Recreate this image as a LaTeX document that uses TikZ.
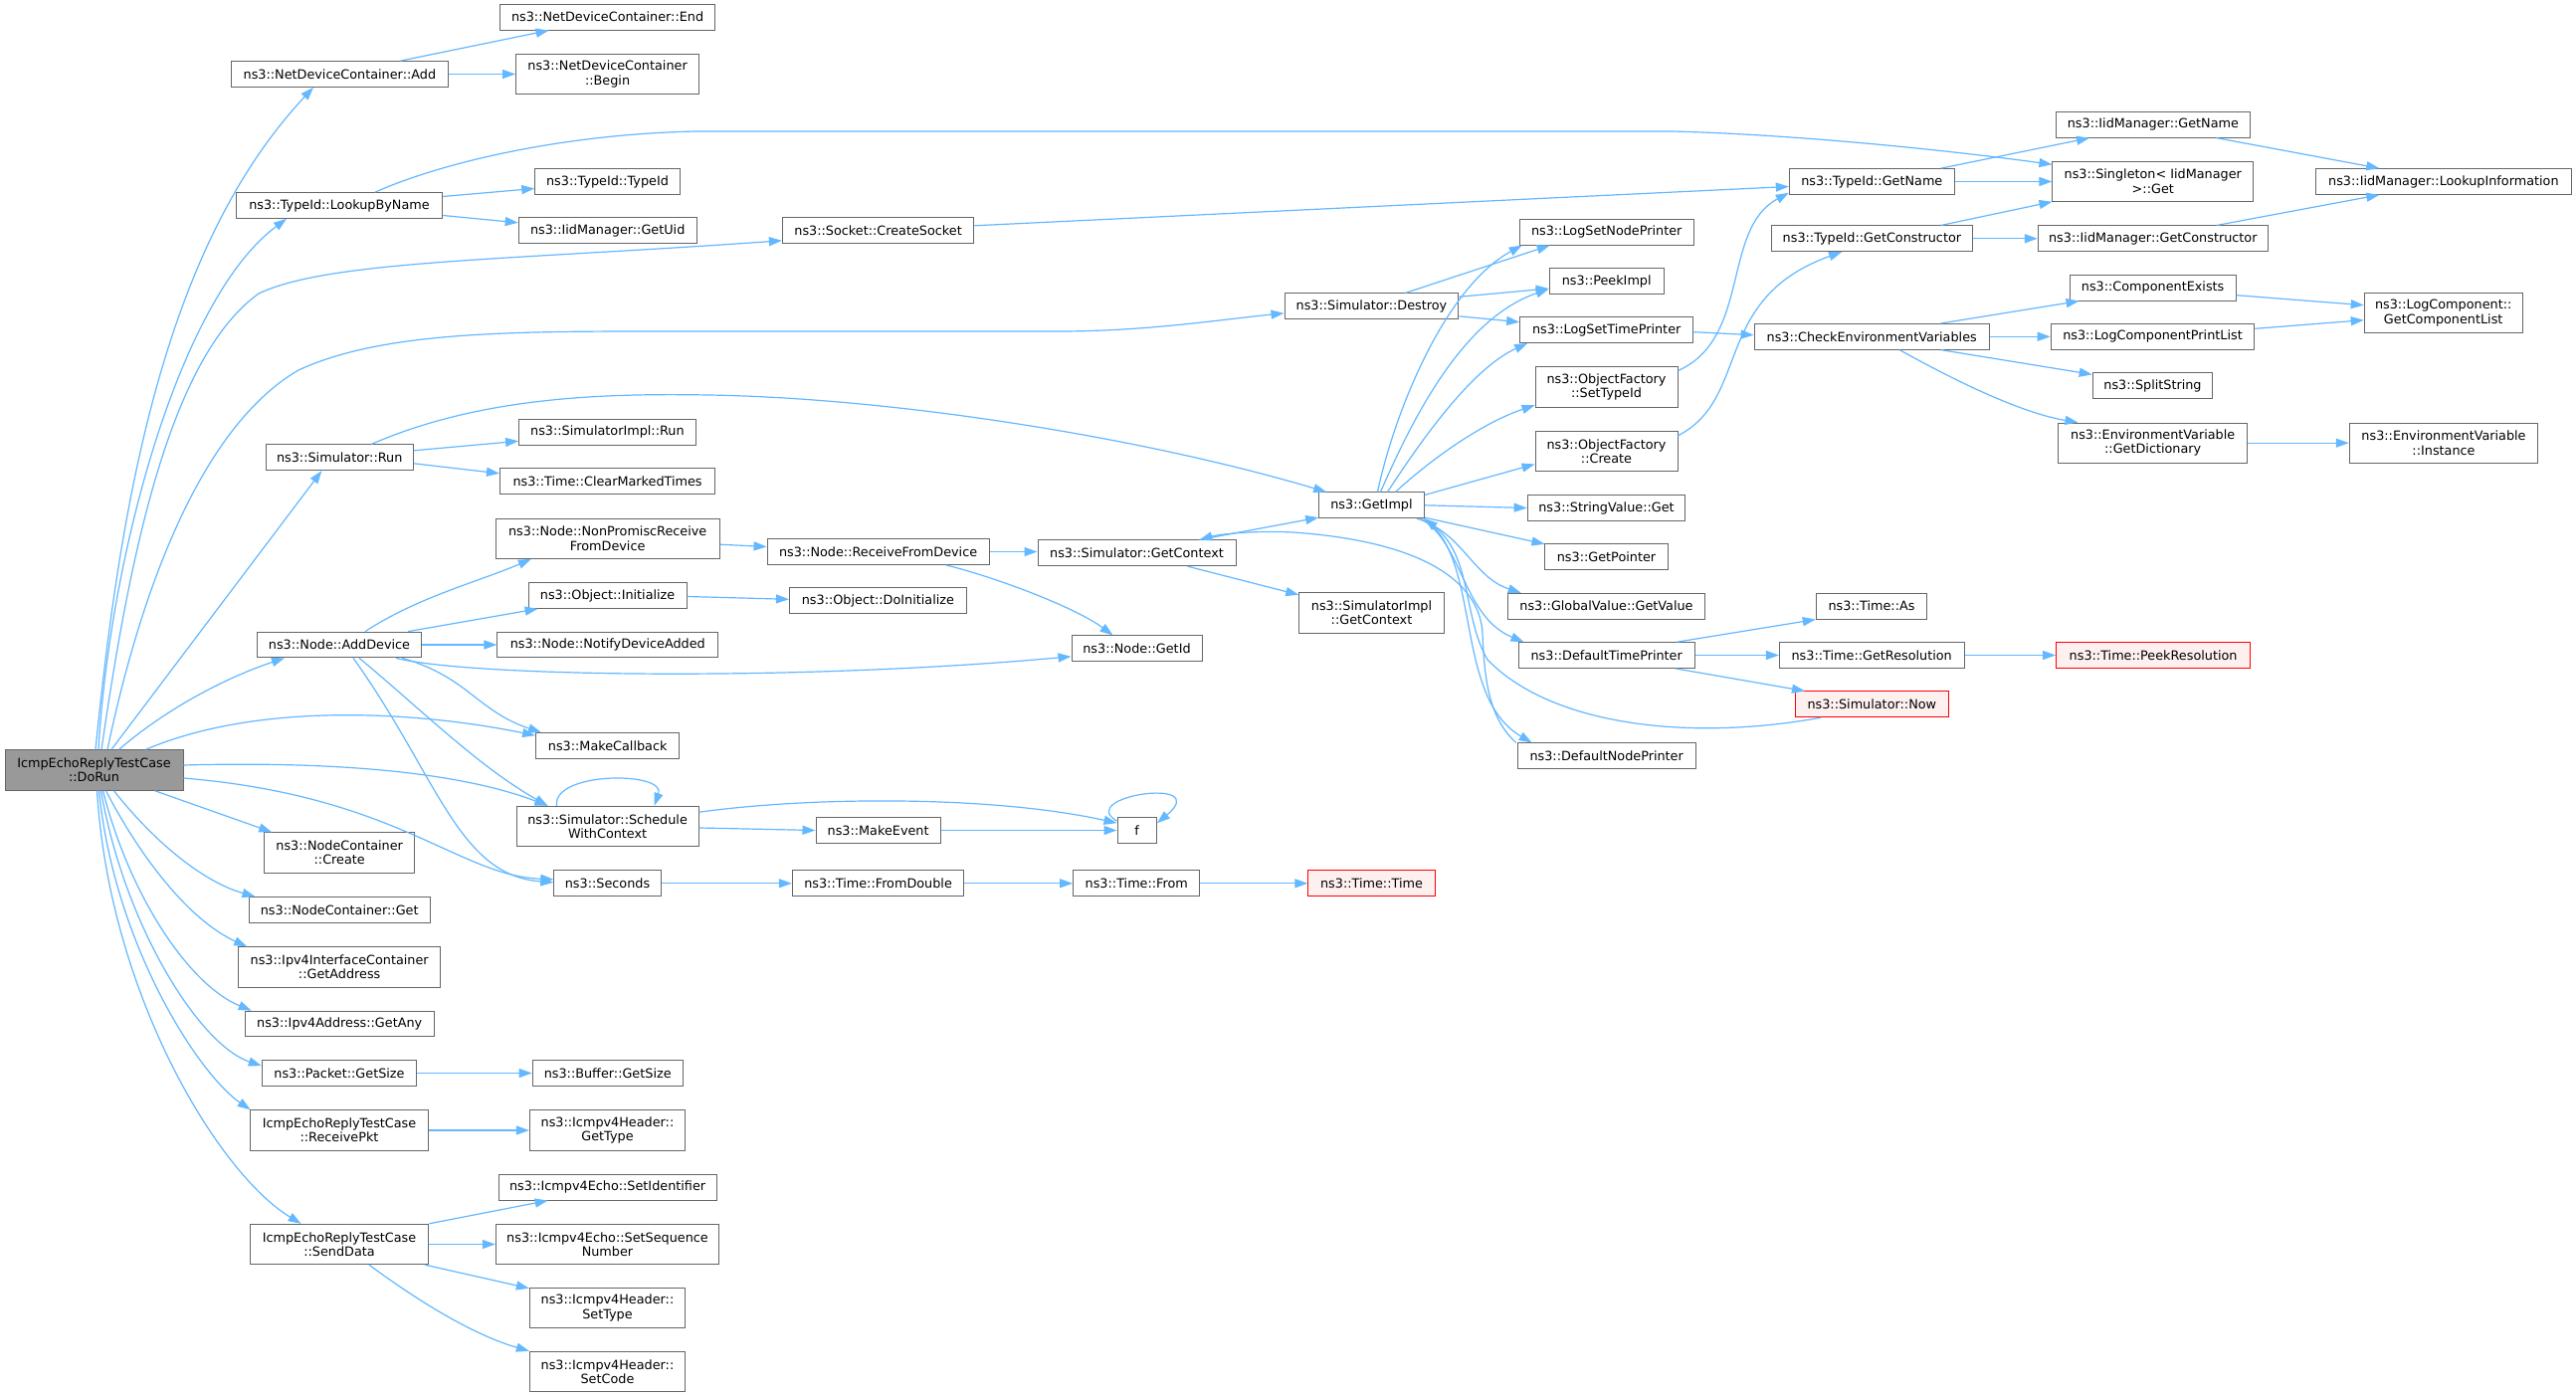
\documentclass[tikz,border=0pt]{standalone}
\usepackage{fontspec}
\setmainfont{DejaVu Sans}
\usetikzlibrary{arrows.meta}
\definecolor{edgeblue}{HTML}{63B8FF}
\definecolor{boxgray}{HTML}{666666}
\definecolor{rootgray}{HTML}{999999}
\definecolor{redfill}{HTML}{FFF0F0}
\tikzset{
  box/.style={draw=boxgray, fill=white, line width=1pt, inner sep=0pt, align=center,
    font=\fontsize{12.8}{14.3}\selectfont, minimum height=25.7pt},
  box2/.style={box, minimum height=40.4pt},
  rootbox/.style={box2, fill=rootgray},
  redbox/.style={box, draw=red, fill=redfill},
  call/.style={draw=edgeblue, line width=1.2pt, -{Triangle[length=13pt,width=9pt]}},
}
\begin{document}
\begin{tikzpicture}[x=1pt,y=-1pt]
\useasboundingbox[fill=white] (0,0) rectangle (2589,1404);

% root
\node[rootbox, minimum width=179pt] (DoRun) at (94.5,774) {IcmpEchoReplyTestCase\\::DoRun};

% column 1
\node[box, minimum width=217.6pt] (ndcAdd) at (341.4,74.5) {ns3::NetDeviceContainer::Add};
\node[box, minimum width=207pt] (lookup) at (341,206.5) {ns3::TypeId::LookupByName};
\node[box, minimum width=148.4pt] (simRun) at (341.2,459.8) {ns3::Simulator::Run};
\node[box, minimum width=165.4pt] (addDev) at (341,648) {ns3::Node::AddDevice};
\node[box2, minimum width=151pt] (ncCreate) at (341.2,857) {ns3::NodeContainer\\::Create};
\node[box, minimum width=181.6pt] (ncGet) at (341.2,914.5) {ns3::NodeContainer::Get};
\node[box2, minimum width=203pt] (ipv4IfGet) at (341.2,972) {ns3::Ipv4InterfaceContainer\\::GetAddress};
\node[box, minimum width=190pt] (ipv4Any) at (341.2,1029) {ns3::Ipv4Address::GetAny};
\node[box, minimum width=155.4pt] (pktSize) at (341,1078.5) {ns3::Packet::GetSize};
\node[box2, minimum width=179.6pt] (recvPkt) at (341,1136) {IcmpEchoReplyTestCase\\::ReceivePkt};
\node[box2, minimum width=179.6pt] (sendData) at (341,1250.5) {IcmpEchoReplyTestCase\\::SendData};

% column 2
\node[box, minimum width=216.3pt] (ndcEnd) at (610.6,17.2) {ns3::NetDeviceContainer::End};
\node[box2, minimum width=184pt] (ndcBegin) at (610.6,74.5) {ns3::NetDeviceContainer\\::Begin};
\node[box, minimum width=145.5pt] (typeIdTypeId) at (610.5,182.5) {ns3::TypeId::TypeId};
\node[box, minimum width=179pt] (iidGetUid) at (610.7,231.8) {ns3::IidManager::GetUid};
\node[box, minimum width=177.7pt] (simImplRun) at (610.4,434.3) {ns3::SimulatorImpl::Run};
\node[box, minimum width=216.3pt] (clearMarked) at (610.6,483.8) {ns3::Time::ClearMarkedTimes};
\node[box2, minimum width=224.7pt] (nonPromisc) at (610.7,541.2) {ns3::Node::NonPromiscReceive\\FromDevice};
\node[box, minimum width=159pt] (objInit) at (610.6,598.5) {ns3::Object::Initialize};
\node[box, minimum width=221.7pt] (notifyDev) at (610.8,648) {ns3::Node::NotifyDeviceAdded};
\node[box, minimum width=144.3pt] (makeCallback) at (610.7,749.5) {ns3::MakeCallback};
\node[box2, minimum width=183.2pt] (schedCtx) at (610.6,830.5) {ns3::Simulator::Schedule\\WithContext};
\node[box, minimum width=107.3pt] (seconds) at (610.5,887.8) {ns3::Seconds};
\node[box, minimum width=151pt] (bufSize) at (610.7,1078.5) {ns3::Buffer::GetSize};
\node[box2, minimum width=156.3pt] (icmpGetType) at (610.5,1136) {ns3::Icmpv4Header::\\GetType};
\node[box, minimum width=218.8pt] (setIdent) at (610.6,1193.2) {ns3::Icmpv4Echo::SetIdentifier};
\node[box2, minimum width=224.3pt] (setSeq) at (610.5,1250.5) {ns3::Icmpv4Echo::SetSequence\\Number};
\node[box2, minimum width=156.3pt] (setType) at (610.5,1314.5) {ns3::Icmpv4Header::\\SetType};
\node[box2, minimum width=156.3pt] (setCode) at (610.5,1378.5) {ns3::Icmpv4Header::\\SetCode};

% column 3
\node[box, minimum width=192.4pt] (sockCreate) at (882.6,231.8) {ns3::Socket::CreateSocket};
\node[box, minimum width=223.1pt] (recvFromDev) at (882.6,554.5) {ns3::Node::ReceiveFromDevice};
\node[box, minimum width=177.9pt] (objDoInit) at (882.4,603.8) {ns3::Object::DoInitialize};
\node[box, minimum width=125.2pt] (makeEvent) at (882.6,834.5) {ns3::MakeEvent};
\node[box, minimum width=172.5pt] (fromDouble) at (882.6,887.8) {ns3::Time::FromDouble};

% column 4
\node[box, minimum width=199pt] (getContext) at (1142.5,555.8) {ns3::Simulator::GetContext};
\node[box, minimum width=131pt] (nodeGetId) at (1142.5,651.8) {ns3::Node::GetId};
\node[box, minimum width=39.4pt] (f) at (1142.7,834.5) {f};
\node[box, minimum width=127.3pt] (timeFrom) at (1142.3,887.8) {ns3::Time::From};

% column 5
\node[box, minimum width=174.8pt] (simDestroy) at (1378.4,307.8) {ns3::Simulator::Destroy};
\node[box, minimum width=105.7pt] (getImpl) at (1378.5,507.8) {ns3::GetImpl};
\node[box2, minimum width=145.5pt] (simImplGetCtx) at (1378.5,615.8) {ns3::SimulatorImpl\\::GetContext};
\node[redbox, minimum width=127.3pt] (timeTime) at (1378.5,887.8) {ns3::Time::Time};

% column 6
\node[box, minimum width=175pt] (logSetNode) at (1614.7,233.2) {ns3::LogSetNodePrinter};
\node[box, minimum width=115.3pt] (peekImpl) at (1614.7,282.5) {ns3::PeekImpl};
\node[box, minimum width=174.1pt] (logSetTime) at (1614.7,331.7) {ns3::LogSetTimePrinter};
\node[box2, minimum width=143pt] (ofSetTypeId) at (1614.5,389.2) {ns3::ObjectFactory\\::SetTypeId};
\node[box2, minimum width=143pt] (ofCreate) at (1614.5,453.5) {ns3::ObjectFactory\\::Create};
\node[box, minimum width=158.8pt] (strValGet) at (1614.5,510.5) {ns3::StringValue::Get};
\node[box, minimum width=123.1pt] (getPointer) at (1614.5,559.8) {ns3::GetPointer};
\node[box, minimum width=198.6pt] (gvGetValue) at (1614.5,609.2) {ns3::GlobalValue::GetValue};
\node[box, minimum width=177.4pt] (defTimePrinter) at (1614.7,658.5) {ns3::DefaultTimePrinter};
\node[box, minimum width=179.1pt] (defNodePrinter) at (1614.7,759.8) {ns3::DefaultNodePrinter};

% column 7
\node[box, minimum width=166pt] (typeIdGetName) at (1881.3,182.5) {ns3::TypeId::GetName};
\node[box, minimum width=201.7pt] (typeIdGetCtor) at (1881.4,239.8) {ns3::TypeId::GetConstructor};
\node[box, minimum width=236.2pt] (checkEnv) at (1881.2,338.3) {ns3::CheckEnvironmentVariables};
\node[box, minimum width=111.5pt] (timeAs) at (1881,609.2) {ns3::Time::As};
\node[box, minimum width=185.6pt] (timeGetRes) at (1881.2,658.5) {ns3::Time::GetResolution};
\node[redbox, minimum width=153.6pt] (simNow) at (1881.3,707.8) {ns3::Simulator::Now};

% column 8
\node[box, minimum width=194.8pt] (iidGetName) at (2163.9,125.3) {ns3::IidManager::GetName};
\node[box2, minimum width=201.7pt, minimum height=40pt] (singletonGet) at (2163.8,182.3) {ns3::Singleton< IidManager\\>::Get};
\node[box, minimum width=231.1pt] (iidGetCtor) at (2163.8,239.8) {ns3::IidManager::GetConstructor};
\node[box, minimum width=167.1pt] (compExists) at (2163.6,289.2) {ns3::ComponentExists};
\node[box, minimum width=204.6pt] (logCompPrint) at (2163.5,338.3) {ns3::LogComponentPrintList};
\node[box, minimum width=120.6pt] (splitString) at (2163.5,387.7) {ns3::SplitString};
\node[box2, minimum width=189.5pt] (envGetDict) at (2163.7,445.2) {ns3::EnvironmentVariable\\::GetDictionary};
\node[redbox, minimum width=195.2pt] (timePeekRes) at (2164.1,658.5) {ns3::Time::PeekResolution};

% column 9
\node[box, minimum width=256.2pt] (iidLookupInfo) at (2455.9,182.5) {ns3::IidManager::LookupInformation};
\node[box2, minimum width=159pt, minimum height=40pt] (logCompGetList) at (2455.7,314.7) {ns3::LogComponent::\\GetComponentList};
\node[box2, minimum width=189.5pt] (envInstance) at (2456,445.2) {ns3::EnvironmentVariable\\::Instance};

% ---------------- edges from DoRun
\draw[call] ([xshift=1.5pt]DoRun.north) .. controls (121,504) and (165,248) .. ([xshift=-26.4pt]ndcAdd.south);
\draw[call] ([xshift=4.5pt]DoRun.north) .. controls (110,560) and (180,300) .. ([xshift=-53pt]lookup.south);
\draw[call] ([xshift=7.5pt]DoRun.north) .. controls (130,560) and (170,360) .. (260,295) .. controls (330,262) and (500,262) .. ([yshift=-10pt]sockCreate.west);
\draw[call] ([xshift=13.5pt]DoRun.north) .. controls (140,600) and (200,430) .. (300,372) .. controls (380,335) and (500,333) .. (650,333) -- (1064,333) .. controls (1150,333) and (1220,322) .. ([yshift=-7pt]simDestroy.west);
\draw[call] ([xshift=17.5pt]DoRun.north) -- ([xshift=-17.8pt]simRun.south);
\draw[call] ([xshift=25pt]DoRun.north) .. controls (170,710) and (230,680) .. ([xshift=-55pt]addDev.south);
\draw[call] ([xshift=52pt]DoRun.north) .. controls (260,705) and (420,715) .. ([yshift=-3pt]makeCallback.north west);
\draw[call] ([yshift=5pt]DoRun.east) .. controls (330,765) and (460,775) .. ([xshift=32pt]schedCtx.north west);
\draw[call] ([yshift=-8pt]DoRun.east) .. controls (400,800) and (460,880) .. ([yshift=4pt]seconds.west);
\draw[call] ([xshift=61pt]DoRun.south) -- ([xshift=8pt]ncCreate.north west);
\draw[call] ([xshift=20pt]DoRun.south) .. controls (150,840) and (200,885) .. ([xshift=6.6pt]ncGet.north west);
\draw[call] ([xshift=12pt]DoRun.south) .. controls (140,860) and (190,925) .. ([xshift=9pt]ipv4IfGet.north west);
\draw[call] ([xshift=9pt]DoRun.south) .. controls (130,900) and (190,990) .. ([xshift=7pt]ipv4Any.north west);
\draw[call] ([xshift=7pt]DoRun.south) .. controls (125,930) and (200,1050) .. ([yshift=-6pt]pktSize.north west);
\draw[call] ([xshift=5pt]DoRun.south) .. controls (115,950) and (200,1080) .. ([xshift=1pt]recvPkt.north west);
\draw[call] ([xshift=3pt]DoRun.south) .. controls (110,1000) and (220,1180) .. ([xshift=-38.4pt]sendData.north);

% ---------------- column 1 outgoing
\draw[call] ([xshift=61pt]ndcAdd.north) -- ([xshift=-59pt]ndcEnd.south);
\draw[call] (ndcAdd.east) -- (ndcBegin.west);
\draw[call] ([yshift=9pt]lookup.east) -- ([yshift=-7pt]typeIdTypeId.west);
\draw[call] ([yshift=-10pt]lookup.east) -- ([yshift=8pt]iidGetUid.west);
\draw[call] ([xshift=36pt]lookup.north) .. controls (440,165) and (560,135) .. (700,132) -- (1680,132) .. controls (1800,135) and (1950,150) .. ([yshift=17pt]singletonGet.west);
\draw[call] ([yshift=7pt]simRun.east) -- ([yshift=-9pt]simImplRun.west);
\draw[call] ([yshift=-6pt]simRun.east) -- ([yshift=8pt]clearMarked.west);
\draw[call] ([xshift=32pt]simRun.north) .. controls (480,400) and (600,395) .. (712,397) .. controls (900,400) and (1150,440) .. ([xshift=8pt]getImpl.north west);
\draw[call] ([xshift=26pt]addDev.north) .. controls (420,600) and (480,585) .. ([xshift=36pt]nonPromisc.south west);
\draw[call] ([xshift=69pt]addDev.north) -- ([xshift=10pt]objInit.south west);
\draw[call] (addDev.east) -- (notifyDev.west);
\draw[call] ([xshift=57pt]addDev.south) .. controls (470,680) and (800,685) .. ([yshift=-8pt]nodeGetId.west);
\draw[call] ([xshift=63pt]addDev.south) .. controls (470,680) and (480,715) .. ([xshift=6pt]makeCallback.north west);
\draw[call] ([xshift=20pt]addDev.south) .. controls (420,710) and (480,770) .. ([xshift=32pt]schedCtx.north west);
\draw[call] ([xshift=14pt]addDev.south) .. controls (440,780) and (460,880) .. ([yshift=1pt]seconds.west);
\draw[call] (pktSize.east) -- (bufSize.west);
\draw[call] (recvPkt.east) -- (icmpGetType.west);
\draw[call] (sendData.north east) -- ([xshift=50pt]setIdent.south west);
\draw[call] (sendData.east) -- (setSeq.west);
\draw[call] ([xshift=-4pt]sendData.south east) -- ([yshift=-1pt]setType.north west);
\draw[call] ([xshift=30pt]sendData.south) .. controls (410,1300) and (470,1340) .. (setCode.north west);

% ---------------- column 2/3 outgoing
\draw[call] ([yshift=-6pt]nonPromisc.east) -- ([yshift=5pt]recvFromDev.west);
\draw[call] ([yshift=-1pt]objInit.east) -- ([yshift=1.5pt]objDoInit.west);
\draw[call] ([xshift=41pt]schedCtx.north west) .. controls (555,775) and (670,775) .. ([xshift=139pt]schedCtx.north west);
\draw[call] ([yshift=-6.4pt]schedCtx.north east) .. controls (820,800) and (1000,800) .. ([yshift=-6pt]f.north west);
\draw[call] ([yshift=-1.5pt]schedCtx.east) -- (makeEvent.west);
\draw[call] (makeEvent.east) -- (f.west);
\draw[call] ([yshift=-4pt]f.north west) .. controls (1080,800) and (1220,780) .. ([yshift=-6pt]f.north east);
\draw[call] (seconds.east) -- (fromDouble.west);
\draw[call] (fromDouble.east) -- (timeFrom.west);
\draw[call] (timeFrom.east) -- (timeTime.west);
\draw[call] (sockCreate.east |- 0,226.8) -- ([yshift=-5pt]typeIdGetName.west);
\draw[call] (recvFromDev.east) -- (recvFromDev.east -| getContext.west);
\draw[call] ([xshift=68pt]recvFromDev.south) .. controls (1000,580) and (1080,610) .. ([xshift=-24pt]nodeGetId.north);

% ---------------- column 4/5
\draw[call] ([xshift=63pt]getContext.north) -- ([yshift=1pt]getImpl.south west);
\draw[call] ([xshift=51pt]getContext.south) -- ([yshift=18pt]simImplGetCtx.west);
\draw[call] ([xshift=34pt]simDestroy.north) -- ([xshift=31pt]logSetNode.south west);
\draw[call] ([yshift=9.5pt]simDestroy.east) -- ([yshift=-7.5pt]peekImpl.west);
\draw[call] ([yshift=-10pt]simDestroy.east) -- ([yshift=8pt]logSetTime.west);

% GetImpl outgoing
\draw[call] ([xshift=6pt]getImpl.north) .. controls (1400,420) and (1450,290) .. ([xshift=3pt]logSetNode.south west);
\draw[call] ([xshift=9pt]getImpl.north) .. controls (1420,420) and (1470,320) .. ([yshift=-8pt]peekImpl.west);
\draw[call] ([xshift=16pt]getImpl.north) .. controls (1430,440) and (1480,370) .. ([xshift=8pt]logSetTime.south west);
\draw[call] ([xshift=24pt]getImpl.north) .. controls (1440,460) and (1490,425) .. ([yshift=-18pt]ofSetTypeId.west);
\draw[call] ([yshift=-3pt]getImpl.north east) -- ([yshift=-13pt]ofCreate.west);
\draw[call] (getImpl.east) -- (strValGet.west);
\draw[call] ([yshift=1pt]getImpl.south east) -- ([yshift=13pt]getPointer.west);
\draw[call] ([xshift=-8pt]getImpl.south east) .. controls (1470,535) and (1480,580) .. ([xshift=14pt]gvGetValue.north west);
\draw[call] ([xshift=-4pt]getImpl.south east) .. controls (1470,545) and (1470,620) .. ([xshift=6pt]defTimePrinter.north west);
\draw[call] ([xshift=-1pt]getImpl.south east) .. controls (1490,560) and (1460,700) .. ([xshift=15pt]defNodePrinter.north west);

% back edges
\draw[call] ([xshift=-1pt]defNodePrinter.north west) .. controls (1495,720) and (1492,680) .. (1490,637) .. controls (1488,590) and (1440,545) .. (1300,535) .. controls (1260,533) and (1225,537) .. ([xshift=63pt]getContext.north);
\draw[call] ([xshift=-51pt]simNow.south) .. controls (1700,745) and (1560,730) .. (1495,663) .. controls (1470,620) and (1480,560) .. (getImpl.south east);

% ---------------- column 6/7/8
\draw[call] ([xshift=71pt]defTimePrinter.north) -- (timeAs.south west);
\draw[call] (defTimePrinter.east) -- (timeGetRes.west);
\draw[call] ([xshift=69pt]defTimePrinter.south) -- ([xshift=10pt]simNow.north west);
\draw[call] (timeGetRes.east) -- (timePeekRes.west);
\draw[call] ([yshift=-2pt]logSetTime.east) -- ([yshift=1.6pt]checkEnv.west);
\draw[call] ([yshift=-4pt]ofSetTypeId.north east) .. controls (1760,340) and (1730,230) .. ([yshift=2pt]typeIdGetName.south west);
\draw[call] ([yshift=-5pt]ofCreate.north east) .. controls (1760,400) and (1720,300) .. ([xshift=71pt]typeIdGetCtor.south west);
\draw[call] ([xshift=-14pt]typeIdGetName.north east) -- ([xshift=34pt]iidGetName.south west);
\draw[call] (typeIdGetName.east) -- (typeIdGetName.east -| singletonGet.west);
\draw[call] ([xshift=-32pt]typeIdGetCtor.north east) -- (singletonGet.south west);
\draw[call] (typeIdGetCtor.east) -- (iidGetCtor.west);
\draw[call] ([xshift=-34pt]iidGetName.south east) -- ([xshift=64pt]iidLookupInfo.north west);
\draw[call] ([xshift=-52pt]iidGetCtor.north east) -- ([xshift=64pt]iidLookupInfo.south west);
\draw[call] ([xshift=-49pt]checkEnv.north east) -- ([xshift=10pt]compExists.south west);
\draw[call] (checkEnv.east) -- (logCompPrint.west);
\draw[call] ([xshift=-49pt]checkEnv.south east) -- ([yshift=-2pt]splitString.north west);
\draw[call] ([xshift=28pt]checkEnv.south) .. controls (1960,380) and (2030,415) .. ([xshift=20pt]envGetDict.north west);
\draw[call] ([yshift=-7.5pt]compExists.east) -- ([yshift=8pt]logCompGetList.west);
\draw[call] ([yshift=8pt]logCompPrint.east) -- ([yshift=-7pt]logCompGetList.west);
\draw[call] (envGetDict.east) -- (envInstance.west);
\end{tikzpicture}
\end{document}
